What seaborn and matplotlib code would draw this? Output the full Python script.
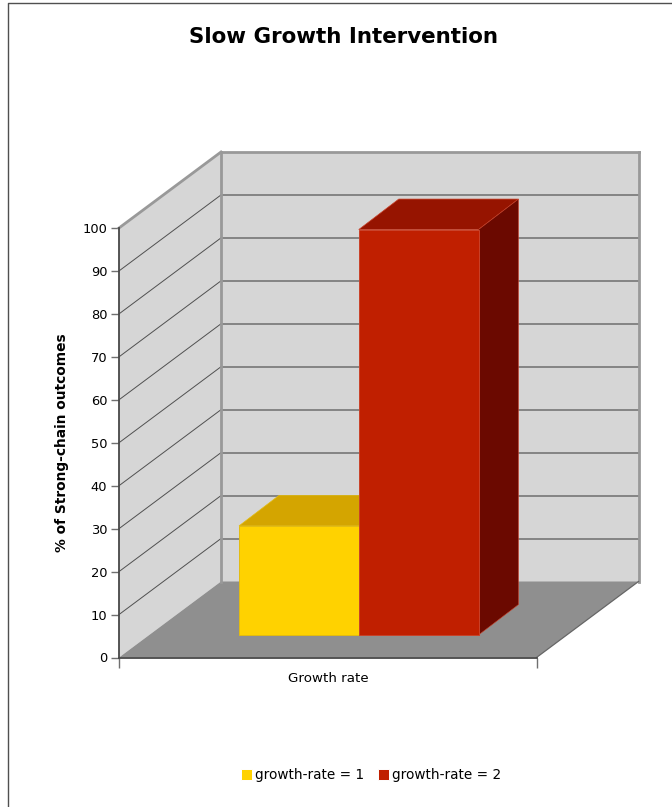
import matplotlib
matplotlib.use("Agg")
import matplotlib.pyplot as plt
import pandas as pd
import seaborn as sns
from matplotlib.lines import Line2D
from matplotlib.patches import Polygon
from matplotlib.transforms import Affine2D

# Chart values
category = ["Growth rate"]
series_labels = ["growth-rate = 1", "growth-rate = 2"]
outcome_pct = [25.4, 94.4]
y_ticks = list(range(0, 101, 10))

title_text = "Slow Growth Intervention"
y_label_text = "% of Strong-chain outcomes"

front_colors = ["#FFD200", "#C01F00"]
top_colors = ["#D4A500", "#961400"]
side_colors = ["#A88300", "#6B0900"]
edge_colors = ["#E3BC10", "#C9422A"]

WALL = "#D6D6D6"
FLOOR = "#8F8F8F"
WALL_EDGE = "#999999"
AXIS = "#484848"

W, H = 672, 807
sns.set_theme(style="white", rc={"text.color": "black"})
plt.rcParams["font.family"] = ["DejaVu Sans"]

fig = plt.figure(figsize=(W / 100, H / 100), dpi=100, facecolor="white")

# The front plane of the box, placed in pixels
left, right, y_zero, y_full = 119.0, 536.5, 657.5, 228.0
ax = fig.add_axes([left / W, 1 - y_zero / H, (right - left) / W, (y_zero - y_full) / H])
ax.patch.set_alpha(0)

px_x = 1.0 / (right - left)          # data units per pixel on x
px_y = 100.0 / (y_zero - y_full)     # data units per pixel on y
depth_x, depth_y = 102 * px_x, 76 * px_y
bar_dx, bar_dy = 40 * px_x, 30.5 * px_y
shift_x, shift_y = 31 * px_x, 22.5 * px_y

frame = pd.DataFrame({"group": category * 2, "series": series_labels, "pct": outcome_pct})

x0, x1 = -0.5, 0.5


def poly(points, color, z, edge="none", lw=0.0):
    ax.add_patch(Polygon(points, closed=True, facecolor=color, edgecolor=edge,
                         linewidth=lw, zorder=z, clip_on=False))


def line(xs, ys, color, lw, z):
    ax.add_line(Line2D(xs, ys, color=color, linewidth=lw, zorder=z, clip_on=False,
                       solid_capstyle="projecting"))


# Walls and floor of the box
poly([(x0, 0), (x0 + depth_x, depth_y), (x0 + depth_x, 100 + depth_y), (x0, 100)], WALL, 0.5)
poly([(x0 + depth_x, depth_y), (x1 + depth_x, depth_y),
      (x1 + depth_x, 100 + depth_y), (x0 + depth_x, 100 + depth_y)], WALL, 0.5)
poly([(x0, 0), (x1, 0), (x1 + depth_x, depth_y), (x0 + depth_x, depth_y)], FLOOR, 0.6)

# Grid lines run along the side wall and then across the back wall
for v in y_ticks[1:-1]:
    line([x0, x0 + depth_x], [v, v + depth_y], "#505050", 0.7, 0.8)
    line([x0 + depth_x, x1 + depth_x], [v + depth_y, v + depth_y], "#6E6E6E", 1.1, 0.8)

# Box outline
line([x0, x0 + depth_x], [100, 100 + depth_y], WALL_EDGE, 2.0, 1)
line([x0 + depth_x, x1 + depth_x], [100 + depth_y, 100 + depth_y], WALL_EDGE, 2.0, 1)
line([x1 + depth_x, x1 + depth_x], [depth_y, 100 + depth_y], WALL_EDGE, 2.0, 1)
line([x0 + depth_x, x0 + depth_x], [depth_y, 100 + depth_y], WALL_EDGE, 2.0, 1)
line([x1, x1 + depth_x], [0, depth_y], "#666666", 0.9, 1)

# Front faces of the bars
sns.barplot(data=frame, x="group", y="pct", hue="series", hue_order=series_labels,
            palette=front_colors, width=239.5 * px_x, gap=0, dodge=True, ax=ax,
            zorder=3, linewidth=0.7, clip_on=False, saturation=1)
ax.set_xlim(x0, x1)
ax.set_ylim(0, 100)

# Slide each bar into the middle of the box and give it a top and a side
bars = [rect for container in ax.containers for rect in container]
for i, bar in enumerate(bars):
    bar.set_transform(Affine2D().translate(shift_x, shift_y) + ax.transData)
    bar.set_edgecolor(edge_colors[i])
    bar.set_clip_on(False)
    bx0 = bar.get_x() + shift_x
    bx1 = bx0 + bar.get_width()
    low = shift_y
    high = bar.get_height() + shift_y
    z = 2 + i * 2
    bar.set_zorder(z + 0.5)
    poly([(bx0, high), (bx1, high), (bx1 + bar_dx, high + bar_dy), (bx0 + bar_dx, high + bar_dy)],
         top_colors[i], z, edge_colors[i], 0.5)
    poly([(bx1, low), (bx1 + bar_dx, low + bar_dy), (bx1 + bar_dx, high + bar_dy), (bx1, high)],
         side_colors[i], z, edge_colors[i], 0.4)

# Axes
for s in ax.spines.values():
    s.set_visible(False)
line([x0, x0], [0, 100], AXIS, 1.3, 9)
line([x0, x1], [0, 0], AXIS, 1.3, 9)
ax.set_yticks(y_ticks)
ax.set_yticklabels([str(v) for v in y_ticks])
ax.set_xticks([x0, x1])
ax.set_xticklabels(["", ""])
ax.tick_params(axis="y", left=True, length=6, width=1.0, color="#707070", pad=2.5,
               labelsize=9.4, labelcolor="black")
ax.tick_params(axis="x", bottom=True, length=7, width=1.0, color="#707070", pad=0)
ax.set_xlabel(category[0], fontsize=9.6, color="black", labelpad=1.5)
ax.set_ylabel(y_label_text, fontsize=9.9, fontweight="bold", color="black", labelpad=0)
ax.yaxis.set_label_coords(62 / W, 1 - 443 / H, transform=fig.transFigure)
ax.xaxis.set_label_coords(328 / W, 1 - 678 / H, transform=fig.transFigure)
ax.xaxis.label.set_verticalalignment("center")
ax.yaxis.label.set_verticalalignment("center")

# Title
fig.text(343.5 / W, 1 - 37 / H, title_text, fontsize=15.4, fontweight="bold",
         color="black", ha="center", va="center")

# Legend along the foot of the figure
handles, labels = ax.get_legend_handles_labels()
ax.legend(handles, labels, ncol=2, frameon=False, loc="center",
          bbox_to_anchor=(371 / W, 1 - 775 / H), bbox_transform=fig.transFigure,
          fontsize=9.85, handlelength=0.82, handleheight=0.82, handletextpad=0.22,
          columnspacing=1.0, borderpad=0, borderaxespad=0)

# Outer frame on the top and left
fig.add_artist(Line2D([8.3 / W, 8.3 / W, 1], [0, 1 - 3.4 / H, 1 - 3.4 / H],
                      color="#505050", linewidth=1.0, transform=fig.transFigure))

fig.savefig("out.png", dpi=100, facecolor="white")
